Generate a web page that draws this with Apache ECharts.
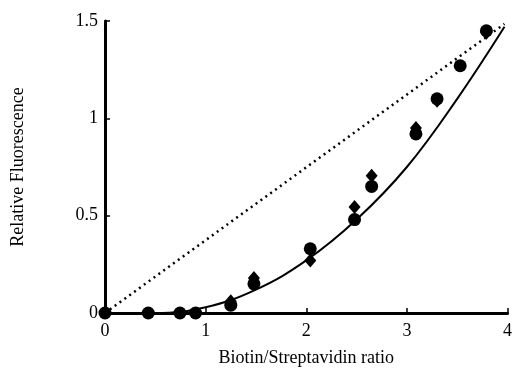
<!DOCTYPE html>
<html>
<head>
<meta charset="utf-8">
<script src="https://cdn.jsdelivr.net/npm/echarts@6/dist/echarts.min.js"></script>
<style>
  html, body { margin: 0; padding: 0; background: #fff; }
  #chart { width: 515px; height: 372px; }
</style>
</head>
<body>
<div id="chart"></div>
<script>
// circles (data set 1)
var circleX = [0, 0.43, 0.745, 0.9, 1.25, 1.48, 2.04, 2.48, 2.65, 3.09, 3.3, 3.53, 3.79];
var circleY = [0, 0, 0, 0, 0.04, 0.15, 0.33, 0.48, 0.65, 0.92, 1.10, 1.27, 1.45];
// diamonds (data set 2)
var diamondX = [1.25, 1.48, 2.04, 2.48, 2.65, 3.09, 3.3, 3.79];
var diamondY = [0.06, 0.18, 0.27, 0.545, 0.705, 0.95, 1.09, 1.44];
// solid fitted curve
var curveX = [0, 0.5, 1, 1.5, 2, 2.5, 3, 3.5, 3.97];
var curveY = [0, 0, 0.03, 0.12, 0.27, 0.48, 0.75, 1.10, 1.47];
// dotted line
var lineX = [0, 3.97];
var lineY = [0, 1.485];

var xTicks = [0, 1, 2, 3, 4];
var yTicks = [0, 0.5, 1, 1.5];

function pairs(xs, ys) {
    var out = [];
    for (var i = 0; i < xs.length; i++) out.push([xs[i], ys[i]]);
    return out;
}

var chart = echarts.init(document.getElementById('chart'));
var font = '"Liberation Serif", "Times New Roman", serif';

var option = {
    animation: false,
    backgroundColor: '#fff',
    textStyle: { fontFamily: font, color: '#000' },
    grid: { left: 105, right: 5, top: 21, bottom: 57 },
    xAxis: {
        type: 'value',
        min: 0, max: 4, interval: 1,
        name: 'Biotin/Streptavidin ratio',
        nameLocation: 'middle',
        nameGap: 36,
        nameTextStyle: { fontFamily: font, fontSize: 18, color: '#000' },
        axisLine: { lineStyle: { color: '#000', width: 3 } },
        axisTick: { inside: true, length: 5, lineStyle: { color: '#000', width: 1.5 } },
        axisLabel: { fontFamily: font, fontSize: 18, color: '#000', margin: 9,
            formatter: function (v) { return xTicks.indexOf(v) >= 0 ? String(v) : ''; } },
        splitLine: { show: false }
    },
    yAxis: {
        type: 'value',
        min: 0, max: 1.5, interval: 0.5,
        name: 'Relative Fluorescence',
        nameLocation: 'middle',
        nameGap: 78,
        nameTextStyle: { fontFamily: font, fontSize: 18, color: '#000' },
        axisLine: { show: true, lineStyle: { color: '#000', width: 3 } },
        axisTick: { show: true, inside: true, length: 5, lineStyle: { color: '#000', width: 1.5 } },
        axisLabel: { fontFamily: font, fontSize: 18, color: '#000', margin: 7,
            formatter: function (v) { return yTicks.indexOf(v) >= 0 ? String(v) : ''; } },
        splitLine: { show: false }
    },
    series: [
        {
            name: 'linear',
            type: 'line',
            data: pairs(lineX, lineY),
            showSymbol: false,
            lineStyle: { color: '#000', width: 2.5, type: [2, 4] },
            z: 2
        },
        {
            name: 'fit',
            type: 'line',
            data: pairs(curveX, curveY),
            smooth: 0.4,
            showSymbol: false,
            lineStyle: { color: '#000', width: 2 },
            z: 2
        },
        {
            name: 'circles',
            type: 'scatter',
            data: pairs(circleX, circleY),
            symbol: 'circle',
            symbolSize: 13,
            itemStyle: { color: '#000', opacity: 1 },
            z: 3
        },
        {
            name: 'diamonds',
            type: 'scatter',
            data: pairs(diamondX, diamondY),
            symbol: 'diamond',
            symbolSize: [12, 14],
            itemStyle: { color: '#000', opacity: 1 },
            z: 3
        }
    ]
};

chart.setOption(option);
</script>
</body>
</html>
